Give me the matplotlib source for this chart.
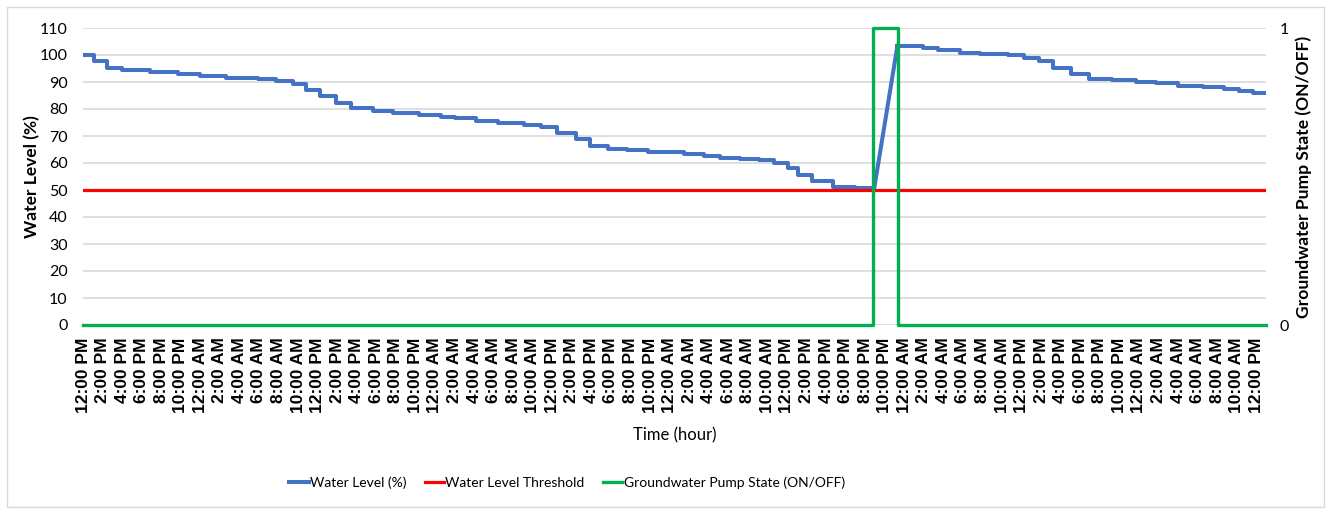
import matplotlib.pyplot as plt
from matplotlib.patches import Rectangle

# water level (%) plateaus: hour (from 12:00 PM on day 1) where each level starts
hours_before_refill = [0.0, 1.1, 2.45, 4.0, 6.85, 9.7, 12.0, 14.6, 17.9, 19.7,
                       21.5, 22.8, 24.2, 25.9, 27.4, 29.7, 31.7, 34.4, 36.6, 38.1,
                       40.2, 42.4, 45.1, 46.8, 48.5, 50.4, 51.9, 53.7, 55.6, 57.8,
                       61.5, 63.5, 65.2, 67.2, 69.1, 70.7, 72.1, 73.1, 74.6, 76.7,
                       79.0, 80.9]
level_before_refill = [100, 97.9, 95.3, 94.4, 93.6, 93.0, 92.1, 91.6, 91.0, 90.4,
                       89.3, 87.0, 84.8, 82.3, 80.2, 79.1, 78.6, 77.9, 77.2, 76.6,
                       75.7, 75.0, 74.2, 73.3, 71.2, 68.9, 66.4, 65.3, 64.7, 64.2,
                       63.3, 62.5, 62.0, 61.6, 61.0, 60.1, 58.3, 55.7, 53.2, 51.2,
                       50.6, 50.0]

hours_after_refill = [83.3, 85.9, 87.5, 89.7, 91.7, 94.6, 96.2, 97.8, 99.2, 101.1,
                      102.9, 105.2, 107.7, 109.7, 112.0, 114.6, 116.7, 118.2, 119.7, 121.0]
level_after_refill = [103.4, 102.7, 101.7, 100.9, 100.5, 99.9, 99.0, 97.6, 95.3, 93.0,
                      91.2, 90.6, 90.0, 89.5, 88.6, 88.0, 87.3, 86.8, 85.9, 85.9]

threshold_hours = [0, 121]
threshold_level = [50, 50]

pump_hours = [0, 80.8, 83.4, 121]
pump_state = [0, 1, 0, 0]

day_labels = ["12:00 PM", "2:00 PM", "4:00 PM", "6:00 PM", "8:00 PM", "10:00 PM",
              "12:00 AM", "2:00 AM", "4:00 AM", "6:00 AM", "8:00 AM", "10:00 AM"]
tick_labels = day_labels * 5 + ["12:00 PM"]
tick_hours = list(range(0, 121, 2))

BLUE = "#4472C4"
RED = "#FF0000"
GREEN = "#00B050"

plt.rcParams['font.family'] = ['Lato', 'DejaVu Sans']

W, H = 1329, 509
fig = plt.figure(figsize=(W / 100, H / 100), dpi=100)
ax = fig.add_axes([83 / W, 1 - 325 / H, (1266 - 83) / W, (325 - 28) / H])

# water level: staircase, straight ramp while the pump refills, staircase again
ax.step(hours_before_refill, level_before_refill, where='post', color=BLUE, lw=2.9,
        label="Water Level (%)", zorder=3)
ax.plot([hours_before_refill[-1], hours_after_refill[0]],
        [level_before_refill[-1], level_after_refill[0]], color=BLUE, lw=2.9, zorder=3)
ax.step(hours_after_refill, level_after_refill, where='post', color=BLUE, lw=2.9, zorder=3)
ax.plot(threshold_hours, threshold_level, color=RED, lw=2.3, label="Water Level Threshold", zorder=4)

ax.set_xlim(0, 121)
ax.set_ylim(0, 110)
ax.set_yticks(range(0, 111, 10))
ax.set_xticks(tick_hours)
ax.set_xticklabels(tick_labels, rotation=90, fontsize=12.5, fontweight='bold',
                   family='Liberation Sans')
ax.tick_params(axis='y', length=0, pad=11, labelsize=11.5)
ax.tick_params(axis='x', length=0, pad=9)
ax.grid(axis='y', color='#D9D9D9', lw=1.2)
ax.set_axisbelow(True)
for s in ax.spines.values():
    s.set_visible(False)

ax.set_ylabel("Water Level (%)", fontsize=12.5, fontweight='bold')
ax.yaxis.set_label_coords(-0.036, 0.5)
ax.set_xlabel("Time (hour)", fontsize=12)
ax.xaxis.set_label_coords(0.5, -0.345)

# pump state on the secondary axis
ax2 = ax.twinx()
ax2.step(pump_hours, pump_state, where='post', color=GREEN, lw=2.4,
         label="Groundwater Pump State (ON/OFF)", zorder=5, clip_on=False)
ax2.set_ylim(0, 1)
ax2.set_yticks([0, 1])
ax2.tick_params(axis='y', length=0, pad=10, labelsize=11.5)
for s in ax2.spines.values():
    s.set_visible(False)
ax2.set_ylabel("Groundwater Pump State (ON/OFF)", fontsize=12.6, fontweight='bold')
ax2.yaxis.set_label_coords(1.0245, 0.5)

handles = ax.get_legend_handles_labels()[0] + ax2.get_legend_handles_labels()[0]
fig.legend(handles, [h.get_label() for h in handles], loc='center',
           bbox_to_anchor=(567 / W, 1 - 483 / H), ncol=3, frameon=False,
           fontsize=10, handlelength=1.4, handletextpad=0.1, columnspacing=1.3)

# chart area border
fig.add_artist(Rectangle((7 / W, 2 / H), (1324 - 7) / W, (507 - 7) / H,
                         transform=fig.transFigure, fill=False,
                         edgecolor='#D9D9D9', lw=1))

fig.savefig("out.png", dpi=100)
